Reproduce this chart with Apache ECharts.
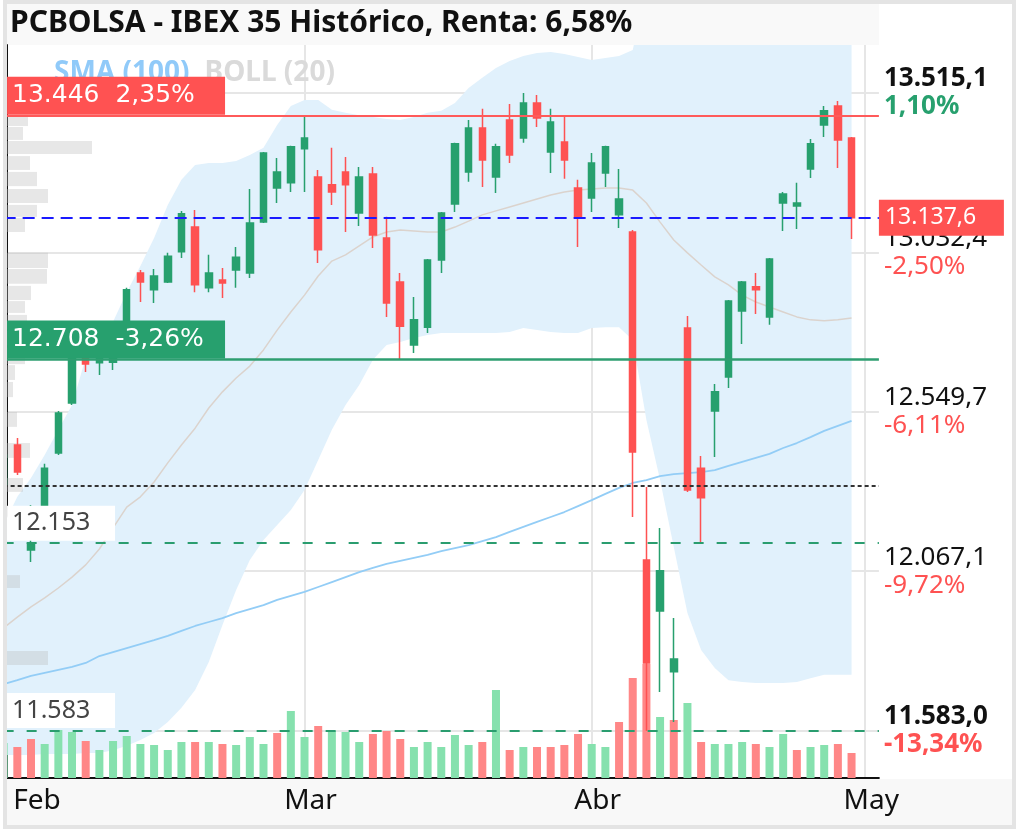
<!DOCTYPE html>
<html><head><meta charset="utf-8">
<script src="https://cdn.jsdelivr.net/npm/echarts@6/dist/echarts.min.js"></script>
<style>html,body{margin:0;padding:0;background:#fff}#c{width:1020px;height:833px}</style>
</head><body><div id="c"></div>
<script>
const titleText = 'PCBOLSA - IBEX 35 Histórico, Renta: 6,58%';
const dates = ['2025-01-30','2025-01-31',
 '2025-02-03','2025-02-04','2025-02-05','2025-02-06','2025-02-07','2025-02-10','2025-02-11','2025-02-12','2025-02-13','2025-02-14',
 '2025-02-17','2025-02-18','2025-02-19','2025-02-20','2025-02-21','2025-02-24','2025-02-25','2025-02-26','2025-02-27','2025-02-28',
 '2025-03-03','2025-03-04','2025-03-05','2025-03-06','2025-03-07','2025-03-10','2025-03-11','2025-03-12','2025-03-13','2025-03-14',
 '2025-03-17','2025-03-18','2025-03-19','2025-03-20','2025-03-21','2025-03-24','2025-03-25','2025-03-26','2025-03-27','2025-03-28','2025-03-31',
 '2025-04-01','2025-04-02','2025-04-03','2025-04-04','2025-04-07','2025-04-08','2025-04-09','2025-04-10','2025-04-11',
 '2025-04-14','2025-04-15','2025-04-16','2025-04-17','2025-04-22','2025-04-23','2025-04-24','2025-04-25','2025-04-28','2025-04-29','2025-04-30',
 '2025-05-02','2025-05-05'];
const monthNames = ['Ene','Feb','Mar','Abr','May','Jun','Jul','Ago','Sep','Oct','Nov','Dic'];

const opens  = [12328,12449,12131,12264,12425,12576,12722,12698,12700,12797,12970,12919,12943,13034,13109,12925,12949,12979,12970,13124,13227,13243,
 13346,13261,13237,13276,13152,13270,13076,12943,12752,12806,13009,13179,13276,13409,13261,13433,13379,13485,13336,13367,13227,
 13197,13273,13146,13094,12101,11946,11762,12803,12379,12552,12655,12855,12928,12837,13182,13173,13285,13418,13476,13379];
const closes = [12419,12367,12149,12379,12546,12752,12694,12737,12740,12919,12943,12961,13021,13149,12934,12970,12940,13018,13121,13333,13276,13352,
 13379,13040,13215,13237,13261,13085,12879,12809,12828,13009,13152,13361,13409,13312,13352,13327,13485,13439,13427,13312,13137,
 13303,13352,13194,12428,11789,12068,11801,12313,12289,12610,12885,12943,12919,13012,13209,13182,13361,13461,13373,13137.6];
const lows   = [12313,12358,12095,12246,12419,12570,12670,12661,12676,12782,12882,12879,12940,13015,12912,12912,12894,12925,12955,13121,13182,13215,
 13215,13000,13176,13094,13112,13046,12837,12708,12728,12788,12970,13155,13246,13230,13212,13303,13364,13412,13273,13255,13049,
 13155,13230,13106,12231,11583,11701,11610,12307,12155,12413,12622,12755,12846,12813,13097,13103,13258,13382,13288,13073];
const highs  = [12434,12470,12267,12392,12552,12767,12737,12749,12749,12925,12979,12982,13031,13158,13161,13025,12985,13049,13224,13336,13318,13355,
 13446,13282,13349,13321,13291,13291,13140,12970,12897,13012,13155,13364,13433,13467,13361,13482,13515,13509,13467,13445,13252,
 13333,13355,13285,13100,12322,12198,11925,12840,12416,12634,12888,12946,12970,13015,13215,13243,13376,13476,13491,13382];
const volumes = [35,31,39,34,48,46,37,28,37,42,34,33,28,36,36,36,34,33,41,34,45,67,
 41,52,47,46,36,44,47,39,31,36,31,43,33,36,88,28,31,31,31,33,44,
 34,31,56,100,114,61,58,75,36,34,34,36,34,31,44,28,31,33,34,25];

const bollUpper = [12207,12292,12349,12419,12495,12570,12713,12767,12822,12912,12991,13076,13176,13252,13297,13303,13303,13309,13327,13349,13418,13476,
 13494,13494,13464,13455,13448,13442,13436,13433,13442,13455,13461,13485,13530,13561,13591,13612,13627,13636,13639,13633,13624,
 13615,13621,13627,13645,13839,13905,14000,14122,14160,14142,14131,14075,14036,14006,13976,13943,13913,13897,13903,13915];
const bollMid = [11895,11928,11959,11986,12016,12049,12086,12134,12198,12261,12292,12337,12395,12449,12500,12561,12610,12652,12688,12737,12797,12852,
 12903,12961,13006,13025,13052,13079,13094,13100,13097,13094,13094,13109,13127,13146,13158,13170,13182,13194,13206,13215,13221,
 13224,13227,13227,13221,13182,13124,13070,13031,12994,12958,12934,12903,12882,12867,12852,12837,12828,12825,12828,12834];
const bollLower = [11510,11510,11510,11513,11513,11513,11516,11516,11525,11538,11556,11577,11610,11653,11707,11792,11904,12010,12101,12161,12207,12252,
 12313,12404,12495,12570,12631,12707,12752,12761,12773,12782,12788,12788,12788,12788,12788,12791,12803,12797,12791,12788,12788,
 12803,12806,12806,12767,12525,12343,12140,11940,11828,11774,11737,11731,11728,11728,11728,11731,11743,11753,11753,11753];
const sma100 = [11725,11737,11750,11759,11768,11777,11789,11810,11822,11834,11846,11858,11871,11886,11901,11913,11925,11940,11952,11964,11980,11992,
 12004,12019,12034,12049,12064,12077,12089,12098,12107,12116,12128,12137,12146,12158,12170,12186,12201,12216,12231,12246,12264,
 12282,12301,12319,12334,12343,12355,12361,12364,12367,12373,12386,12398,12410,12422,12440,12455,12473,12492,12507,12522];

const profileLow  = [13415,13373,13330,13282,13233,13182,13140,13094,12985,12937,12888,12849,12800,12752,12694,12646,12594,12504,12410,12307,12016,11783];
const profileHigh = [13445,13412,13370,13324,13276,13224,13176,13137,13031,12982,12931,12885,12843,12794,12743,12691,12640,12549,12455,12349,12055,11825];
const profileVol  = [21,16,85,23,30,41,30,18,41,40,24,18,20,22,18,8,6,10,23,16,13,41];

const yTickValues = [11583.0, 12067.1, 12549.7, 13032.4, 13515.1];
const yTickPct    = ['-13,34%', '-9,72%', '-6,11%', '-2,50%', '1,10%'];

const highLevel = 13446, highLevelPct = '2,35%';
const lowLevel = 12708, lowLevelPct = '-3,26%';
const lastPrice = 13137.6;
const pivotLevel = 12325;
const supportLevels = [12153, 11583];

const UP = '#27a06e', DOWN = '#fe5252';
const FONT = 'Noto Sans';

function fmtNum(v, dec) {
  const s = Math.abs(v).toFixed(dec);
  const parts = s.split('.');
  const intPart = parts[0].replace(/\B(?=(\d{3})+(?!\d))/g, '.');
  return (v < 0 ? '-' : '') + intPart + (parts[1] ? ',' + parts[1] : '');
}

const monthOf = d => +d.slice(5, 7);
const monthStart = dates.map((d, i) => i > 0 && monthOf(d) !== monthOf(dates[i - 1]));
const firstLabelIdx = monthStart.indexOf(true);
const monthGrid = monthStart.map((b, i) => b && i !== firstLabelIdx);

const candleData = opens.map((o, i) => [o, closes[i], lows[i], highs[i]]);
const volUp = closes.map((c, i) => i === 0 ? c >= opens[i] : c >= closes[i - 1]);
const bandWidth = bollUpper.map((u, i) => u - bollLower[i]);
const profileData = profileLow.map((lo, i) => [lo, profileHigh[i], profileVol[i]]);

const chart = echarts.init(document.getElementById('c'), null, {renderer: 'canvas'});

const levelLabelBase = {show: true, position: 'insideStartTop', fontSize: 25, lineHeight: 32, width: 190,
  padding: [3, 23, 3, 5], color: '#fff', distance: [3.4, 1], fontFamily: 'DejaVu Sans'};

chart.setOption({
  animation: false,
  backgroundColor: '#fff',
  textStyle: {fontFamily: FONT},
  title: {text: titleText, left: 5, top: 3,
    textStyle: {fontSize: 30, fontWeight: 'bold', color: '#111', fontFamily: FONT}},
  legend: {left: 44, top: 54, icon: 'none', itemWidth: 0, itemHeight: 14, itemGap: 10, selectedMode: false, z: 1,
    textStyle: {fontSize: 28, fontWeight: 'bold', fontFamily: FONT},
    data: [{name: 'SMA (100)', textStyle: {color: '#90caf9'}}, {name: 'BOLL (20)', textStyle: {color: '#dadada'}}]},
  graphic: [
    {type: 'rect', z: -10, silent: true, shape: {x: 7, y: 4, width: 872, height: 41}, style: {fill: '#f9f9f9'}},
    {type: 'rect', z: -10, silent: true, shape: {x: 7, y: 779, width: 1005, height: 46}, style: {fill: '#f8f8f8'}},
    {type: 'rect', z: 99, silent: true, shape: {x: 0, y: 0, width: 4, height: 833}, style: {fill: '#fff'}},
    {type: 'rect', z: 100, silent: true, shape: {x: 5, y: 2, width: 1009, height: 825}, style: {fill: null, stroke: '#e4e4e4', lineWidth: 4}}
  ],
  grid: {left: 3.65, right: 141.1, top: 45, bottom: 55, containLabel: false, outerBoundsMode: 'none'},
  xAxis: [{
    type: 'category', data: dates, boundaryGap: false,
    axisLine: {show: true, lineStyle: {color: '#111', width: 2}},
    axisTick: {show: false},
    axisLabel: {interval: (i) => monthStart[i], hideOverlap: false,
      formatter: (v) => monthNames[monthOf(v) - 1], fontSize: 28, color: '#111', margin: 9, padding: [0, 0, 0, 12], fontFamily: FONT},
    splitLine: {show: true, interval: (i) => monthGrid[i], lineStyle: {color: '#e6e6e6', width: 2}}
  }, {
    type: 'value', min: -3.35, max: 871.9, show: false
  }],
  yAxis: [{
    type: 'value', position: 'right', min: 11440.6, max: 13660.4,
    axisLine: {show: true, lineStyle: {color: '#111', width: 2}},
    axisTick: {show: false, customValues: yTickValues},
    splitLine: {show: true, lineStyle: {color: '#e6e6e6', width: 2}},
    axisLabel: {
      customValues: yTickValues, margin: 5, align: 'left',
      formatter: (v) => {
        const i = yTickValues.findIndex(t => Math.abs(t - v) < 0.01);
        const bold = (i === 0 || i === yTickValues.length - 1) ? 'b' : '';
        const pct = yTickPct[i] || '';
        const cls = pct.startsWith('-') ? 'd' : 'u';
        return '{p' + bold + '|' + fmtNum(v, 1) + '}\n{' + cls + bold + '|' + pct + '}';
      },
      rich: {
        p:  {fontSize: 26, lineHeight: 28, color: '#111', fontFamily: FONT},
        pb: {fontSize: 26, lineHeight: 28, color: '#111', fontWeight: 'bold', fontFamily: FONT},
        u:  {fontSize: 26, lineHeight: 28, color: UP, fontFamily: FONT},
        ub: {fontSize: 26, lineHeight: 28, color: UP, fontWeight: 'bold', fontFamily: FONT},
        d:  {fontSize: 26, lineHeight: 28, color: DOWN, fontFamily: FONT},
        db: {fontSize: 26, lineHeight: 28, color: DOWN, fontWeight: 'bold', fontFamily: FONT}
      }
    }
  }, {
    type: 'value', min: 0, max: 733, show: false
  }],
  series: [
    {name: 'bollBase', type: 'line', data: bollLower, stack: 'boll', symbol: 'none', silent: true, z: 1,
      lineStyle: {width: 0, opacity: 0}},
    {name: 'BOLL (20)', type: 'line', data: bandWidth, stack: 'boll', symbol: 'none', silent: true, z: 1,
      lineStyle: {width: 0, opacity: 0}, itemStyle: {color: '#dcdcdc'}, areaStyle: {color: '#e1f1fc', opacity: 1}},
    {name: 'profile', type: 'custom', xAxisIndex: 1, yAxisIndex: 0, data: profileData, z: 1, silent: true, clip: true,
      encode: {x: 2, y: [0, 1]},
      renderItem: (params, api) => {
        const a = api.coord([0, api.value(1)]);
        const b = api.coord([api.value(2), api.value(0)]);
        return {type: 'rect', shape: {x: a[0], y: a[1], width: b[0] - a[0], height: b[1] - a[1]},
          style: {fill: 'rgba(185,185,185,0.34)'}};
      }},
    {name: 'volume', type: 'bar', xAxisIndex: 0, yAxisIndex: 1, data: volumes, barWidth: 8, z: 2, silent: true, clip: true,
      itemStyle: {color: (p) => volUp[p.dataIndex] ? '#86e1ae' : '#ff8787'}},
    {name: 'BOLL (20)', type: 'line', data: bollMid, symbol: 'none', z: 2, silent: true,
      lineStyle: {color: '#dbd3cd', width: 1.5}, itemStyle: {color: '#dcdcdc'}},
    {name: 'SMA (100)', type: 'line', data: sma100, symbol: 'none', z: 2, silent: true,
      lineStyle: {color: '#93cdf6', width: 1.8}, itemStyle: {color: '#93cdf6'}},
    {name: 'IBEX 35', type: 'candlestick', data: candleData, barWidth: 7, z: 3, clip: true,
      itemStyle: {color: UP, color0: DOWN, borderColor: UP, borderColor0: DOWN, borderWidth: 1.5},
      markLine: {
        symbol: ['none', 'none'], silent: true, animation: false,
        data: [
          {yAxis: pivotLevel, lineStyle: {color: '#333', width: 2, type: [4, 3]}, label: {show: false}},
          {yAxis: supportLevels[0], lineStyle: {color: '#2a9d6f', width: 2, type: [10, 13]},
            label: Object.assign({}, levelLabelBase, {formatter: () => fmtNum(supportLevels[0], 0), color: '#444', fontFamily: FONT, fontSize: 25,
              backgroundColor: '#fff', width: 80, lineHeight: 31, padding: [2, 23, 2, 5], distance: [3.4, 2]})},
          {yAxis: supportLevels[1], lineStyle: {color: '#2a9d6f', width: 2, type: [10, 13]},
            label: Object.assign({}, levelLabelBase, {formatter: () => fmtNum(supportLevels[1], 0), color: '#444', fontFamily: FONT, fontSize: 25,
              backgroundColor: '#fff', width: 80, lineHeight: 31, padding: [2, 23, 2, 5], distance: [3.4, 3]})},
          {yAxis: highLevel, lineStyle: {color: '#ff5a5a', width: 2, type: 'solid'},
            label: Object.assign({}, levelLabelBase, {formatter: () => fmtNum(highLevel, 0) + '  ' + highLevelPct, backgroundColor: '#ff5252'})},
          {yAxis: lowLevel, lineStyle: {color: '#2e9e70', width: 2.5, type: 'solid'},
            label: Object.assign({}, levelLabelBase, {formatter: () => fmtNum(lowLevel, 0) + '  ' + lowLevelPct, backgroundColor: '#27a06e'})},
          {yAxis: lastPrice, lineStyle: {color: '#1a1aff', width: 2, type: [12, 7]},
            label: {show: true, position: 'end', distance: [0, 0], formatter: () => fmtNum(lastPrice, 1),
              fontSize: 23, lineHeight: 30, width: 92, padding: [3, 27, 3, 6], color: '#fff', backgroundColor: '#ff5252', fontFamily: FONT}}
        ]
      }}
  ]
});
</script></body></html>
